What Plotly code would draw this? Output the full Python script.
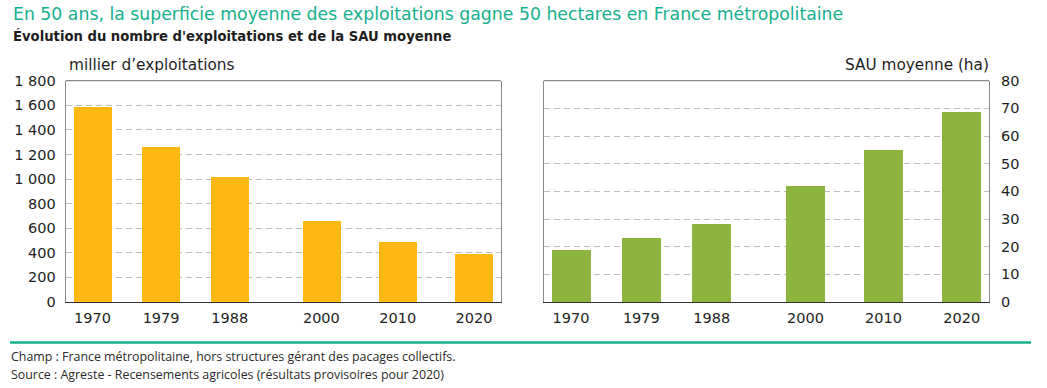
import plotly.graph_objects as go

years = [1970, 1979, 1988, 2000, 2010, 2020]
exploitations = [1588, 1263, 1017, 664, 490, 389]   # milliers
sau_moyenne = [18.8, 23.3, 28.2, 42.0, 55.0, 68.8]  # ha
year_labels = ["1970", "1979", "1988", "2000", "2010", "2020"]

W, H = 1047, 388
def px(x): return x / W
def py(y): return (H - y) / H

YELLOW = "#FDB813"
GREEN = "#8DB43E"
TEAL = "#14B08E"
TXT = "#1e1e1e"
GRID = "#BDBDBD"
FRAME = "#8a8a8a"
FONT = "DejaVu Sans"
FOOT = "Open Sans"

fig = go.Figure()
fig.add_trace(go.Bar(x=years, y=exploitations, width=5, marker=dict(color=YELLOW, line=dict(width=0)),
                     xaxis="x", yaxis="y", showlegend=False, hoverinfo="skip"))
fig.add_trace(go.Bar(x=years, y=sau_moyenne, width=5, marker=dict(color=GREEN, line=dict(width=0)),
                     xaxis="x2", yaxis="y2", showlegend=False, hoverinfo="skip"))

ydom = [py(302), py(80.7)]
common_x = dict(range=[1966.5, 2023.5], tickvals=years, ticktext=year_labels, ticks="",
                showgrid=False, zeroline=False, showline=True, linecolor="#333333", linewidth=1.3,
                tickfont=dict(size=14.5, color=TXT, family=FONT), fixedrange=True, automargin=False,
                ticklabelstandoff=2)
common_y = dict(showgrid=True, gridcolor=GRID, griddash="6px,4px", gridwidth=1.3, zeroline=False,
                showline=True, linecolor=FRAME, linewidth=1.3, mirror=True, ticks="",
                tickfont=dict(size=14.5, color=TXT, family=FONT), fixedrange=True, automargin=False)

fig.update_layout(
    template="none",
    width=W, height=H, margin=dict(l=0, r=0, t=0, b=0, pad=0), autosize=False,
    paper_bgcolor="white", plot_bgcolor="white",
    separators=", ",
    font=dict(family=FONT, color=TXT),
    xaxis=dict(domain=[px(65.7), px(500.7)], anchor="y", **common_x),
    yaxis=dict(domain=ydom, anchor="x", range=[0, 1800], dtick=200, tickformat=",d",
               separatethousands=True, side="left", ticklabelstandoff=6, **common_y),
    xaxis2=dict(domain=[px(543.7), px(989)], anchor="y2", **common_x),
    yaxis2=dict(domain=ydom, anchor="x2", range=[0, 80], dtick=10, side="right",
                ticklabelstandoff=8, **common_y),
    bargap=0,
)

# top borders of both panels (gray)
for xr, yr in [("x domain", "y domain"), ("x2 domain", "y2 domain")]:
    fig.add_shape(type="line", xref=xr, yref=yr, x0=0, x1=1, y0=1, y1=1,
                  line=dict(color=FRAME, width=1.3))

# separator line
fig.add_shape(type="line", xref="paper", yref="paper", x0=px(10), x1=px(1031), y0=py(342.5), y1=py(342.5),
              line=dict(color=TEAL, width=2.5))

ann = [
    dict(text="En 50 ans, la superficie moyenne des exploitations gagne 50 hectares en France métropolitaine",
         x=px(11), y=py(14.5), font=dict(size=17.3, color=TEAL, family=FONT), xanchor="left"),
    dict(text="<b>Évolution du nombre d'exploitations et de la SAU moyenne</b>",
         x=px(11), y=py(36), font=dict(size=13.2, color=TXT, family=FONT), xanchor="left"),
    dict(text="millier d’exploitations", x=px(67), y=py(65.5), font=dict(size=15.3, color=TXT, family=FONT),
         xanchor="left"),
    dict(text="SAU moyenne (ha)", x=px(991), y=py(65.5), font=dict(size=15.3, color=TXT, family=FONT),
         xanchor="right"),
    dict(text="Champ : France métropolitaine, hors structures gérant des pacages collectifs.",
         x=px(9), y=py(356.5), font=dict(size=12.4, color="#2a2a2a", family=FOOT), xanchor="left"),
    dict(text="Source : Agreste - Recensements agricoles (résultats provisoires pour 2020)",
         x=px(9), y=py(374), font=dict(size=12.4, color="#2a2a2a", family=FOOT), xanchor="left"),
]
for a in ann:
    fig.add_annotation(xref="paper", yref="paper", showarrow=False, yanchor="middle", **a)

fig.write_html("out.html", config={"displayModeBar": False},
               post_script="document.body.style.margin='0';")
